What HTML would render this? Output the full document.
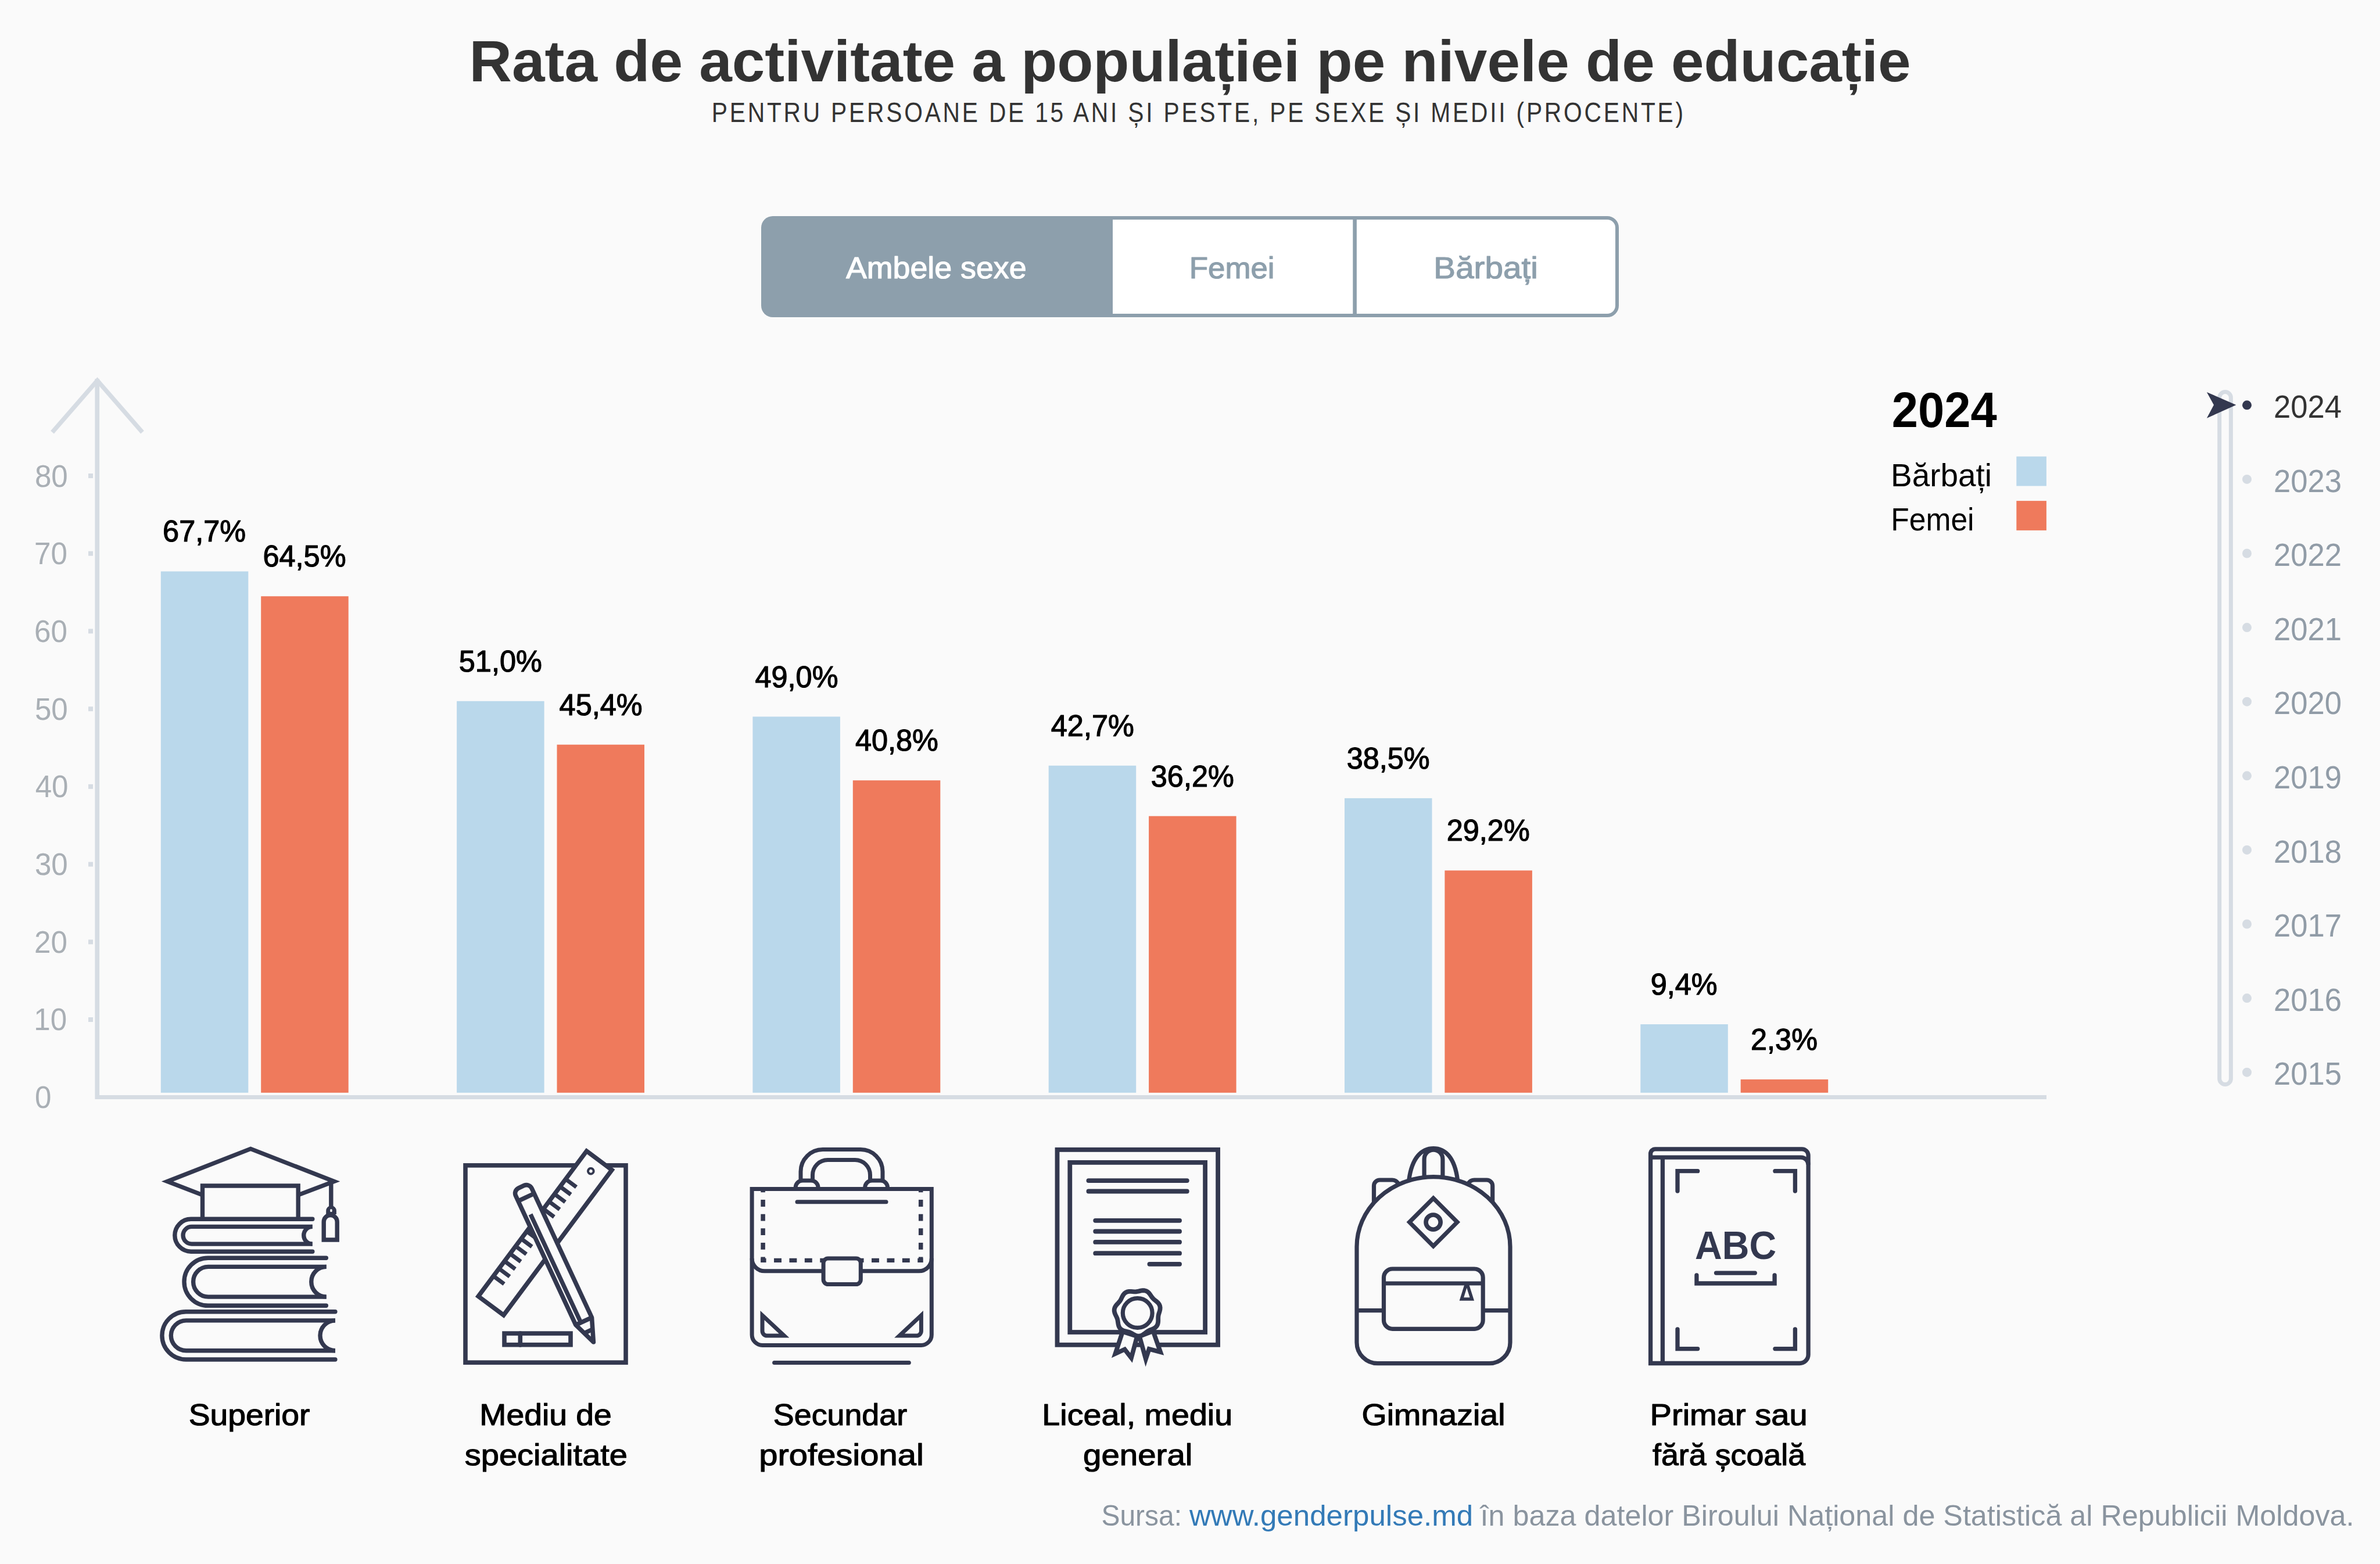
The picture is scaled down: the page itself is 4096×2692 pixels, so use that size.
<!DOCTYPE html>
<html lang="ro"><head><meta charset="utf-8"><title>Rata de activitate a populației pe nivele de educație</title>
<style>
html,body{margin:0;padding:0;background:#fafafa;overflow:hidden;}
svg{display:block;width:100vw;height:auto;}
text{font-family:"Liberation Sans",Arial,sans-serif;}
</style></head><body>
<svg width="4096" height="2692" viewBox="0 0 4096 2692">
<rect width="4096" height="2692" fill="#fafafa"/>
<path d="M1330,372 H1912 V546 H1330 A20,20 0 0 1 1310,526 V392 A20,20 0 0 1 1330,372 Z" fill="#8d9fac"/>
<path d="M1912,375 H2766 A17,17 0 0 1 2783,392 V526 A17,17 0 0 1 2766,543 H1912 Z" fill="#fff" stroke="#8d9fac" stroke-width="6"/>
<rect x="2328.3" y="372" width="6.6" height="174" fill="#8d9fac"/>
<rect x="163.4" y="652" width="7.7" height="1240" fill="#d6dce3"/>
<rect x="164" y="1885" width="3358" height="7" fill="#d6dce3"/>
<polyline points="90,744 167.5,655 245,744" fill="none" stroke="#d6dce3" stroke-width="7.5" stroke-linejoin="miter"/>
<rect x="152" y="1751.0" width="8" height="8" fill="#d6dce3"/>
<rect x="152" y="1617.3" width="8" height="8" fill="#d6dce3"/>
<rect x="152" y="1483.6" width="8" height="8" fill="#d6dce3"/>
<rect x="152" y="1349.9" width="8" height="8" fill="#d6dce3"/>
<rect x="152" y="1216.2" width="8" height="8" fill="#d6dce3"/>
<rect x="152" y="1082.4" width="8" height="8" fill="#d6dce3"/>
<rect x="152" y="948.7" width="8" height="8" fill="#d6dce3"/>
<rect x="152" y="815.0" width="8" height="8" fill="#d6dce3"/>
<rect x="276.8" y="983.5" width="150.5" height="897.3" fill="#bad8eb"/>
<rect x="449.2" y="1026.3" width="150.5" height="854.5" fill="#ef7a5c"/>
<rect x="786.1" y="1206.8" width="150.5" height="674.0" fill="#bad8eb"/>
<rect x="958.5" y="1281.7" width="150.5" height="599.1" fill="#ef7a5c"/>
<rect x="1295.4" y="1233.5" width="150.5" height="647.3" fill="#bad8eb"/>
<rect x="1467.8" y="1343.2" width="150.5" height="537.6" fill="#ef7a5c"/>
<rect x="1804.7" y="1317.8" width="150.5" height="563.0" fill="#bad8eb"/>
<rect x="1977.1" y="1404.7" width="150.5" height="476.1" fill="#ef7a5c"/>
<rect x="2314.0" y="1373.9" width="150.5" height="506.9" fill="#bad8eb"/>
<rect x="2486.4" y="1498.3" width="150.5" height="382.5" fill="#ef7a5c"/>
<rect x="2823.3" y="1763.0" width="150.5" height="117.8" fill="#bad8eb"/>
<rect x="2995.7" y="1857.9" width="150.5" height="22.9" fill="#ef7a5c"/>
<rect x="3470.3" y="785.7" width="51.6" height="50.8" fill="#bad8eb"/>
<rect x="3470.3" y="862.1" width="51.6" height="50.8" fill="#ef7a5c"/>
<rect x="3819.7" y="674.6" width="19.7" height="1191.9" rx="9.85" fill="none" stroke="#d6dce3" stroke-width="7"/>
<circle cx="3867" cy="697.3" r="8" fill="#33384f"/>
<circle cx="3867" cy="824.9" r="8" fill="#d6dce3"/>
<circle cx="3867" cy="952.5" r="8" fill="#d6dce3"/>
<circle cx="3867" cy="1080.1" r="8" fill="#d6dce3"/>
<circle cx="3867" cy="1207.7" r="8" fill="#d6dce3"/>
<circle cx="3867" cy="1335.3" r="8" fill="#d6dce3"/>
<circle cx="3867" cy="1462.9" r="8" fill="#d6dce3"/>
<circle cx="3867" cy="1590.5" r="8" fill="#d6dce3"/>
<circle cx="3867" cy="1718.1" r="8" fill="#d6dce3"/>
<circle cx="3867" cy="1845.7" r="8" fill="#d6dce3"/>
<polygon points="3797.9,674.9 3848.4,697.1 3797.9,719.7 3810,697.1" fill="#33384f"/>
<g fill="none" stroke="#33384f" stroke-width="7.5">
<g id="ic1" stroke-width="7.4">
<path d="M348.5,2098 V2041 H513.2 V2098"/>
<path d="M348.5,2056.9 L288,2033.5 L431.3,1977.4 L575,2033.5 L513.2,2056.9" stroke-linejoin="miter"/>
<path d="M569.8,2036 V2078"/>
<path d="M561.2,2090 V2083.9 A8.85,8.85 0 0 1 578.9,2083.9 V2090 Z" fill="#33384f" stroke="none"/>
<rect x="568.2" y="2081.3" width="3.4" height="4.6" rx="1.2" fill="#fafafa" stroke="none"/>
<path d="M557.2,2134 V2103 A11.5,11.5 0 0 1 580.2,2103 V2134 Z" stroke-linejoin="miter"/>
<path d="M537.8,2098.3 H328.7 A27.95,27.95 0 0 0 328.7,2154.2 H537.8" stroke-linecap="round"/>
<path d="M537.6,2111.4 H329.9 A14.85,14.85 0 0 0 329.9,2141.1 H537.6"/>
<path d="M537.6,2111.4 A14.85,14.85 0 0 0 537.6,2141.1"/>
<path d="M561.3,2165.2 H358.05 A41.05,41.05 0 0 0 358.05,2247.3 H561.3" stroke-linecap="round"/>
<path d="M561.6,2180.4 H358.45 A25.85,25.85 0 0 0 358.45,2232.1 H561.6"/>
<path d="M561.6,2180.4 A25.85,25.85 0 0 0 561.6,2232.1"/>
<path d="M576.9,2257.7 H320.05 A41.15,41.15 0 0 0 320.05,2340 H576.9" stroke-linecap="round"/>
<path d="M576.9,2272.9 H320.25 A25.95,25.95 0 0 0 320.25,2324.8 H576.9"/>
<path d="M576.9,2272.9 A25.95,25.95 0 0 0 576.9,2324.8"/>
</g>
<g id="ic2" stroke-width="7.6">
<rect x="801" y="2005.9" width="276" height="339.3" stroke-linejoin="miter"/>
<g transform="translate(823.2,2231.2) rotate(36.7)">
<rect x="0" y="-311.8" width="54.3" height="311.8" fill="#fafafa" stroke-linejoin="miter"/>
<path d="M0,-43.5 H23 M0,-59.5 H23 M0,-75.5 H23 M0,-91.5 H23 M0,-107.5 H23 M0,-123.5 H23 M0,-139.5 H23 M0,-155.5 H23 M0,-171.5 H23 M0,-187.5 H23 M0,-203.5 H23 M0,-219.5 H23 M0,-235.5 H23 M0,-251.5 H23" stroke-width="7"/>
<circle cx="26.5" cy="-288.4" r="4.8" stroke-width="4"/>
</g>
<g transform="translate(895.5,2039.3) rotate(-24.94)">
<path d="M-15.2,259 V13.8 A10,10 0 0 1 -5.2,3.8 H5.2 A10,10 0 0 1 15.2,13.8 V259 L0,298.5 Z" fill="#fafafa" stroke-linejoin="round"/>
<path d="M-15.2,23.7 H15.2"/>
<path d="M-15.2,259 H16.5"/>
<path d="M-5.5,53.5 V256" stroke-width="7.4"/>
<path d="M-7.9,278 H7.9"/>
</g>
<rect x="868" y="2295.1" width="114" height="19.6" stroke-linejoin="miter"/>
<path d="M895.3,2295 V2315" stroke-linecap="round"/>
</g>
<g id="ic3" stroke-width="7">
<path d="M1378,2034 V2016.6 A38,38 0 0 1 1416,1978.6 H1481 A38,38 0 0 1 1519,2016.6 V2034"/>
<path d="M1398.5,2034 V2022.5 A26,26 0 0 1 1424.5,1996.5 H1471.5 A26,26 0 0 1 1497.5,2022.5 V2034"/>
<path d="M1369.2,2046.5 V2044 A12,12 0 0 1 1381.2,2032 H1396 A12,12 0 0 1 1408,2044 V2046.5"/>
<path d="M1488.7,2046.5 V2044 A12,12 0 0 1 1500.7,2032 H1515.5 A12,12 0 0 1 1527.5,2044 V2046.5"/>
<path d="M1294.1,2046.5 H1603.3 V2297.4 A18,18 0 0 1 1585.3,2315.4 H1312.1 A18,18 0 0 1 1294.1,2297.4 Z" stroke-linejoin="miter"/>
<path d="M1294.1,2166 A21.8,21.8 0 0 0 1315.9,2187.8 H1581.5 A21.8,21.8 0 0 0 1603.3,2166"/>
<path d="M1372,2068.8 H1525" stroke-linecap="round"/>
<path d="M1313.1,2050 V2172.9 M1584.7,2050 V2172.9" stroke-width="7.5" stroke-dasharray="11.8 12.8" stroke-dashoffset="9.5"/>
<path d="M1309.3,2169.3 H1448.9 M1588.5,2169.3 H1448.9" stroke-width="7.2" stroke-dasharray="12.9 13.5" stroke-dashoffset="3.65"/>
<rect x="1417.1" y="2165.9" width="64.2" height="44.7" rx="8" fill="#fafafa"/>
<path d="M1312,2264 V2291 A8,8 0 0 0 1320,2299 H1349.5 Z" stroke-linejoin="miter"/>
<path d="M1585.4,2264 V2291 A8,8 0 0 1 1577.4,2299 H1548 Z" stroke-linejoin="miter"/>
<path d="M1332.6,2345.6 H1564.3" stroke-linecap="round"/>
</g>
<g id="ic4" stroke-width="7.8">
<rect x="1819.5" y="1978.9" width="276.6" height="335.9" stroke-linejoin="miter"/>
<rect x="1841.3" y="2000.9" width="232.8" height="292.1" stroke-linejoin="miter"/>
<path d="M1873.4,2032.1 H2042.8 M1873.4,2050.5 H2042.8 M1885.2,2100.8 H2030.1 M1885.2,2119.5 H2030.1 M1885.2,2137.9 H2030.1 M1885.2,2157.2 H2030.1 M1978.4,2175.8 H2030.1" stroke-linecap="round"/>
<path d="M1932,2292 L1919.5,2330 L1935.6,2322.5 L1947,2337.2 L1957,2300 Z" fill="#fafafa" stroke-linejoin="miter"/>
<path d="M1961,2300 L1971.9,2339.1 L1977.6,2322 L1997.1,2327.1 L1984.5,2291 Z" fill="#fafafa" stroke-linejoin="miter"/>
<path d="M1994.92,2259.50 L1994.07,2262.23 L1993.49,2264.91 L1993.24,2267.64 L1993.23,2270.49 L1993.24,2273.49 L1992.99,2276.55 L1992.26,2279.51 L1990.90,2282.20 L1988.91,2284.46 L1986.42,2286.24 L1983.66,2287.59 L1980.87,2288.67 L1978.20,2289.72 L1975.75,2290.94 L1973.46,2292.44 L1971.22,2294.21 L1968.88,2296.08 L1966.34,2297.80 L1963.57,2299.08 L1960.61,2299.69 L1957.60,2299.54 L1954.66,2298.71 L1951.89,2297.39 L1949.30,2295.88 L1946.82,2294.45 L1944.34,2293.29 L1941.74,2292.44 L1938.96,2291.79 L1936.03,2291.13 L1933.11,2290.21 L1930.38,2288.84 L1928.06,2286.91 L1926.29,2284.46 L1925.12,2281.65 L1924.42,2278.66 L1923.98,2275.69 L1923.55,2272.86 L1922.91,2270.20 L1921.96,2267.64 L1920.73,2265.06 L1919.42,2262.36 L1918.32,2259.50 L1917.69,2256.51 L1917.75,2253.49 L1918.56,2250.59 L1920.03,2247.91 L1921.93,2245.50 L1923.98,2243.31 L1925.92,2241.21 L1927.61,2239.05 L1929.02,2236.71 L1930.27,2234.14 L1931.56,2231.44 L1933.11,2228.79 L1935.05,2226.43 L1937.45,2224.60 L1940.23,2223.42 L1943.24,2222.90 L1946.31,2222.88 L1949.30,2223.12 L1952.15,2223.33 L1954.89,2223.30 L1957.60,2222.94 L1960.39,2222.32 L1963.31,2221.65 L1966.34,2221.20 L1969.40,2221.25 L1972.32,2221.99 L1974.97,2223.42 L1977.26,2225.45 L1979.18,2227.84 L1980.87,2230.33 L1982.48,2232.69 L1984.21,2234.81 L1986.18,2236.71 L1988.41,2238.50 L1990.75,2240.36 L1992.99,2242.45 L1994.86,2244.88 L1996.11,2247.62 L1996.64,2250.59 L1996.48,2253.64 L1995.81,2256.64 Z" fill="#fafafa" stroke-linejoin="round"/>
<circle cx="1957.7" cy="2260" r="25.4" stroke-width="7.2"/>
</g>
<g id="ic5" stroke-width="7.2">
<path d="M2424.8,2031 C2430,1992 2447,1976.6 2467,1976.6 C2487,1976.6 2503.5,1992 2508.5,2031"/>
<path d="M2451.1,2026 V1995 A15.9,15.9 0 0 1 2482.9,1995 V2026"/>
<path d="M2364.5,2082 V2041 A10,10 0 0 1 2374.5,2031 H2396 A12,12 0 0 1 2406.5,2037.5"/>
<path d="M2568.7,2082 V2041 A10,10 0 0 0 2558.7,2031 H2537.2 A12,12 0 0 0 2526.7,2037.5"/>
<path d="M2335,2146 A132,120.4 0 0 1 2599,2146 V2310.7 A36,36 0 0 1 2563,2346.7 H2371 A36,36 0 0 1 2335,2310.7 Z" fill="#fafafa"/>
<path d="M2466.8,2062.4 L2508,2103.6 L2466.8,2144.8 L2425.6,2103.6 Z" stroke-linejoin="miter"/>
<circle cx="2466.6" cy="2103.6" r="12.6" stroke-width="7.6"/>
<path d="M2335,2255.7 H2381.5 M2552.2,2255.7 H2599"/>
<rect x="2381.5" y="2184" width="170.7" height="103.3" rx="15"/>
<path d="M2381.5,2209 H2552.2"/>
<path d="M2515.4,2236.1 L2533.3,2236.1 L2526,2213 L2522.6,2213 Z" stroke-width="5.5" stroke-linejoin="miter" fill="#fafafa"/>
</g>
<g id="ic6" stroke-width="7.3">
<path d="M2840.6,2346.5 V1986 A8.2,8.2 0 0 1 2848.8,1977.8 H3101.1 A11,11 0 0 1 3112.1,1988.8 V2331.5 A15,15 0 0 1 3097.1,2346.5 Z" stroke-linejoin="miter"/>
<path d="M2840.6,1992.2 H3099.5 A12.6,12.6 0 0 1 3112.1,2004.8"/>
<path d="M2861.4,1992.2 V2346.5"/>
<path d="M2887,2050 V2015.7 H2921.7 M3054.9,2015.7 H3089.4 V2050 M2887,2287.8 V2321.6 H2921.7 M3054.9,2321.6 H3089.4 V2287.8" stroke-linecap="round" stroke-linejoin="miter"/>
<path d="M2919.9,2195 V2209 H3054.1 V2195" stroke-linecap="round" stroke-linejoin="miter"/>
<path d="M2953.5,2191.1 H3020.3" stroke-linecap="round"/>
</g>
</g>
<text x="807.64" y="139.70" font-size="99.49" font-weight="bold" fill="#333" textLength="2480.89" lengthAdjust="spacingAndGlyphs">Rata de activitate a populației pe nivele de educație</text>
<text x="1224.82" y="209.90" font-size="48.29" font-weight="normal" fill="#333" letter-spacing="4.5" textLength="1676.07" lengthAdjust="spacingAndGlyphs">PENTRU PERSOANE DE 15 ANI ȘI PESTE, PE SEXE ȘI MEDII (PROCENTE)</text>
<text x="1456.00" y="478.90" font-size="52.36" font-weight="normal" fill="#fff" stroke="#fff" stroke-width="1.2" stroke-linejoin="round" textLength="310.58" lengthAdjust="spacingAndGlyphs">Ambele sexe</text>
<text x="2046.77" y="478.90" font-size="52.07" font-weight="normal" fill="#8d9fac" stroke="#8d9fac" stroke-width="1.2" stroke-linejoin="round" textLength="146.81" lengthAdjust="spacingAndGlyphs">Femei</text>
<text x="2467.38" y="478.80" font-size="51.93" font-weight="normal" fill="#8d9fac" stroke="#8d9fac" stroke-width="1.2" stroke-linejoin="round" textLength="179.35" lengthAdjust="spacingAndGlyphs">Bărbați</text>
<text x="59.90" y="1907.20" font-size="53.82" font-weight="normal" fill="#a9afb5" textLength="28.43" lengthAdjust="spacingAndGlyphs">0</text>
<text x="58.30" y="1773.49" font-size="53.82" font-weight="normal" fill="#a9afb5" textLength="56.87" lengthAdjust="spacingAndGlyphs">10</text>
<text x="59.10" y="1639.78" font-size="53.82" font-weight="normal" fill="#a9afb5" textLength="56.87" lengthAdjust="spacingAndGlyphs">20</text>
<text x="59.90" y="1506.07" font-size="53.82" font-weight="normal" fill="#a9afb5" textLength="56.87" lengthAdjust="spacingAndGlyphs">30</text>
<text x="60.70" y="1372.36" font-size="53.82" font-weight="normal" fill="#a9afb5" textLength="56.87" lengthAdjust="spacingAndGlyphs">40</text>
<text x="59.90" y="1238.65" font-size="53.82" font-weight="normal" fill="#a9afb5" textLength="56.87" lengthAdjust="spacingAndGlyphs">50</text>
<text x="59.10" y="1104.94" font-size="53.82" font-weight="normal" fill="#a9afb5" textLength="56.87" lengthAdjust="spacingAndGlyphs">60</text>
<text x="59.10" y="971.23" font-size="53.82" font-weight="normal" fill="#a9afb5" textLength="56.87" lengthAdjust="spacingAndGlyphs">70</text>
<text x="59.90" y="837.52" font-size="53.82" font-weight="normal" fill="#a9afb5" textLength="56.87" lengthAdjust="spacingAndGlyphs">80</text>
<text x="280.12" y="932.48" font-size="51.20" font-weight="normal" fill="#000" stroke="#000" stroke-width="1.2" stroke-linejoin="round" textLength="143.00" lengthAdjust="spacingAndGlyphs">67,7%</text>
<text x="452.52" y="975.27" font-size="51.20" font-weight="normal" fill="#000" stroke="#000" stroke-width="1.2" stroke-linejoin="round" textLength="143.00" lengthAdjust="spacingAndGlyphs">64,5%</text>
<text x="789.81" y="1155.78" font-size="51.20" font-weight="normal" fill="#000" stroke="#000" stroke-width="1.2" stroke-linejoin="round" textLength="143.00" lengthAdjust="spacingAndGlyphs">51,0%</text>
<text x="962.61" y="1230.66" font-size="51.20" font-weight="normal" fill="#000" stroke="#000" stroke-width="1.2" stroke-linejoin="round" textLength="143.00" lengthAdjust="spacingAndGlyphs">45,4%</text>
<text x="1299.51" y="1182.52" font-size="51.20" font-weight="normal" fill="#000" stroke="#000" stroke-width="1.2" stroke-linejoin="round" textLength="143.00" lengthAdjust="spacingAndGlyphs">49,0%</text>
<text x="1471.91" y="1292.16" font-size="51.20" font-weight="normal" fill="#000" stroke="#000" stroke-width="1.2" stroke-linejoin="round" textLength="143.00" lengthAdjust="spacingAndGlyphs">40,8%</text>
<text x="1808.81" y="1266.76" font-size="51.20" font-weight="normal" fill="#000" stroke="#000" stroke-width="1.2" stroke-linejoin="round" textLength="143.00" lengthAdjust="spacingAndGlyphs">42,7%</text>
<text x="1980.81" y="1353.67" font-size="51.20" font-weight="normal" fill="#000" stroke="#000" stroke-width="1.2" stroke-linejoin="round" textLength="143.00" lengthAdjust="spacingAndGlyphs">36,2%</text>
<text x="2317.71" y="1322.92" font-size="51.20" font-weight="normal" fill="#000" stroke="#000" stroke-width="1.2" stroke-linejoin="round" textLength="143.00" lengthAdjust="spacingAndGlyphs">38,5%</text>
<text x="2489.72" y="1447.27" font-size="51.20" font-weight="normal" fill="#000" stroke="#000" stroke-width="1.2" stroke-linejoin="round" textLength="143.00" lengthAdjust="spacingAndGlyphs">29,2%</text>
<text x="2840.64" y="1712.01" font-size="51.20" font-weight="normal" fill="#000" stroke="#000" stroke-width="1.2" stroke-linejoin="round" textLength="114.95" lengthAdjust="spacingAndGlyphs">9,4%</text>
<text x="3013.04" y="1806.95" font-size="51.20" font-weight="normal" fill="#000" stroke="#000" stroke-width="1.2" stroke-linejoin="round" textLength="114.95" lengthAdjust="spacingAndGlyphs">2,3%</text>
<text x="3255.86" y="734.80" font-size="84.80" font-weight="bold" fill="#000" textLength="180.82" lengthAdjust="spacingAndGlyphs">2024</text>
<text x="3254.12" y="836.50" font-size="54.84" font-weight="normal" fill="#000" textLength="173.75" lengthAdjust="spacingAndGlyphs">Bărbați</text>
<text x="3254.37" y="912.90" font-size="54.84" font-weight="normal" fill="#000" textLength="143.21" lengthAdjust="spacingAndGlyphs">Femei</text>
<text x="3913.03" y="719.00" font-size="54.84" font-weight="normal" fill="#333" textLength="117.11" lengthAdjust="spacingAndGlyphs">2024</text>
<text x="3913.03" y="846.60" font-size="54.84" font-weight="normal" fill="#919ca7" textLength="117.11" lengthAdjust="spacingAndGlyphs">2023</text>
<text x="3913.03" y="974.20" font-size="54.84" font-weight="normal" fill="#919ca7" textLength="117.11" lengthAdjust="spacingAndGlyphs">2022</text>
<text x="3913.03" y="1101.80" font-size="54.84" font-weight="normal" fill="#919ca7" textLength="117.11" lengthAdjust="spacingAndGlyphs">2021</text>
<text x="3913.03" y="1229.40" font-size="54.84" font-weight="normal" fill="#919ca7" textLength="117.11" lengthAdjust="spacingAndGlyphs">2020</text>
<text x="3913.03" y="1357.00" font-size="54.84" font-weight="normal" fill="#919ca7" textLength="117.11" lengthAdjust="spacingAndGlyphs">2019</text>
<text x="3913.03" y="1484.60" font-size="54.84" font-weight="normal" fill="#919ca7" textLength="117.11" lengthAdjust="spacingAndGlyphs">2018</text>
<text x="3913.03" y="1612.20" font-size="54.84" font-weight="normal" fill="#919ca7" textLength="117.11" lengthAdjust="spacingAndGlyphs">2017</text>
<text x="3913.03" y="1739.80" font-size="54.84" font-weight="normal" fill="#919ca7" textLength="117.11" lengthAdjust="spacingAndGlyphs">2016</text>
<text x="3913.03" y="1867.40" font-size="54.84" font-weight="normal" fill="#919ca7" textLength="117.11" lengthAdjust="spacingAndGlyphs">2015</text>
<text x="324.65" y="2453.00" font-size="51.20" font-weight="normal" fill="#000" stroke="#000" stroke-width="1.15" stroke-linejoin="round" textLength="208.85" lengthAdjust="spacingAndGlyphs">Superior</text>
<text x="825.35" y="2453.00" font-size="51.20" font-weight="normal" fill="#000" stroke="#000" stroke-width="1.15" stroke-linejoin="round" textLength="227.51" lengthAdjust="spacingAndGlyphs">Mediu de</text>
<text x="799.80" y="2522.20" font-size="51.20" font-weight="normal" fill="#000" stroke="#000" stroke-width="1.15" stroke-linejoin="round" textLength="280.19" lengthAdjust="spacingAndGlyphs">specialitate</text>
<text x="1330.89" y="2453.00" font-size="51.20" font-weight="normal" fill="#000" stroke="#000" stroke-width="1.15" stroke-linejoin="round" textLength="230.19" lengthAdjust="spacingAndGlyphs">Secundar</text>
<text x="1306.25" y="2522.20" font-size="51.20" font-weight="normal" fill="#000" stroke="#000" stroke-width="1.15" stroke-linejoin="round" textLength="283.59" lengthAdjust="spacingAndGlyphs">profesional</text>
<text x="1793.33" y="2453.00" font-size="51.20" font-weight="normal" fill="#000" stroke="#000" stroke-width="1.15" stroke-linejoin="round" textLength="327.82" lengthAdjust="spacingAndGlyphs">Liceal, mediu</text>
<text x="1864.01" y="2522.20" font-size="51.20" font-weight="normal" fill="#000" stroke="#000" stroke-width="1.15" stroke-linejoin="round" textLength="188.34" lengthAdjust="spacingAndGlyphs">general</text>
<text x="2343.47" y="2453.00" font-size="51.20" font-weight="normal" fill="#000" stroke="#000" stroke-width="1.15" stroke-linejoin="round" textLength="247.12" lengthAdjust="spacingAndGlyphs">Gimnazial</text>
<text x="2839.59" y="2453.00" font-size="51.20" font-weight="normal" fill="#000" stroke="#000" stroke-width="1.15" stroke-linejoin="round" textLength="271.08" lengthAdjust="spacingAndGlyphs">Primar sau</text>
<text x="2843.97" y="2522.20" font-size="51.20" font-weight="normal" fill="#000" stroke="#000" stroke-width="1.15" stroke-linejoin="round" textLength="263.21" lengthAdjust="spacingAndGlyphs">fără școală</text>
<text x="2917.09" y="2166.80" font-size="67.93" font-weight="bold" fill="#33384f" textLength="140.04" lengthAdjust="spacingAndGlyphs">ABC</text>
<text x="1895.50" y="2626.00" font-size="50.33" font-weight="normal" fill="#8a949f" textLength="138.53" lengthAdjust="spacingAndGlyphs">Sursa:</text>
<text x="2046.90" y="2626.00" font-size="50.33" font-weight="normal" fill="#337ab7" textLength="488.37" lengthAdjust="spacingAndGlyphs">www.genderpulse.md</text>
<text x="2547.57" y="2626.00" font-size="50.33" font-weight="normal" fill="#8a949f" textLength="1503.97" lengthAdjust="spacingAndGlyphs">în baza datelor Biroului Național de Statistică al Republicii Moldova.</text>
</svg>
</body></html>
